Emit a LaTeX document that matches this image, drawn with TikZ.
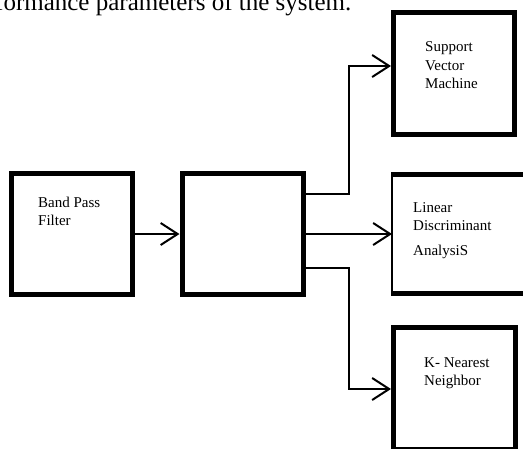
\documentclass[tikz,border=0pt]{standalone}
\usepackage{fontspec}
\setmainfont{Liberation Serif}
\usepackage{tikz}
\usetikzlibrary{arrows.meta,calc}
\definecolor{ink}{HTML}{000000}
\definecolor{paper}{HTML}{FFFFFF}
\tikzset{
  blockbox/.style={draw=ink, fill=paper, line width=5pt, minimum width=121pt, minimum height=121pt, inner sep=0pt},
  conn/.style={line width=2pt, draw=ink, -{Straight Barb[length=17pt,width=22pt,line width=2pt]}},
  lab/.style={text=ink, font=\fontsize{15}{18.5}\selectfont, align=left, anchor=north west, inner sep=0pt},
  head/.style={text=ink, font=\fontsize{25}{30}\selectfont, anchor=base west, inner sep=0pt}
}
\begin{document}
\begin{tikzpicture}[x=1pt,y=-1pt]
  \clip (0,0) rectangle (523,448);
  \fill[paper] (0,0) rectangle (523,448);

  \node[head] (caption) at (-5,10.5) {formance parameters of the system.};

  % blocks
  \node[blockbox] (bpf) at (71.5,234) {};
  \node[blockbox] (mid) at (242.5,234) {};
  \node[blockbox, minimum height=122pt] (svm) at (454,73.5) {};
  \node[blockbox, minimum width=122pt, minimum height=122pt] (knn) at (454.5,388.5) {};
  \node[draw=none, minimum width=150pt, minimum height=119pt, outer sep=0pt] (lda) at (467,234) {};
  \draw[line width=5pt] ($(lda.north west)+(-1,0)$) -- (lda.north east);
  \draw[line width=5pt] ($(lda.south west)+(-1,0)$) -- (lda.south east);
  \draw[line width=2pt] (lda.north west) -- (lda.south west);

  % labels
  \node[lab] (bpfT) at (38,196.7) {Band Pass\\Filter};
  \node[lab] (svmT) at (425,41.8) {Support\\Vector\\Machine};
  \node[lab] (ldaT) at (413,202) {Linear\\Discriminant\\[6pt]AnalysiS};
  \node[lab] (knnT) at (424,357) {K- Nearest\\Neighbor};

  % connectors
  \coordinate (svmIn) at ($(svm.west)+(0,-7.5)$);
  \coordinate (knnIn) at ($(knn.west)+(0,0.5)$);
  \draw[conn] (bpf.east) -- (mid.west);
  \draw[conn] (mid.east) -- (lda.west);
  \draw[conn] ($(mid.east)+(0,-40)$) -| ($(svmIn)+(-42,0)$) -- (svmIn);
  \draw[conn] ($(mid.east)+(0,34)$) -| ($(knnIn)+(-42,0)$) -- (knnIn);
\end{tikzpicture}
\end{document}
